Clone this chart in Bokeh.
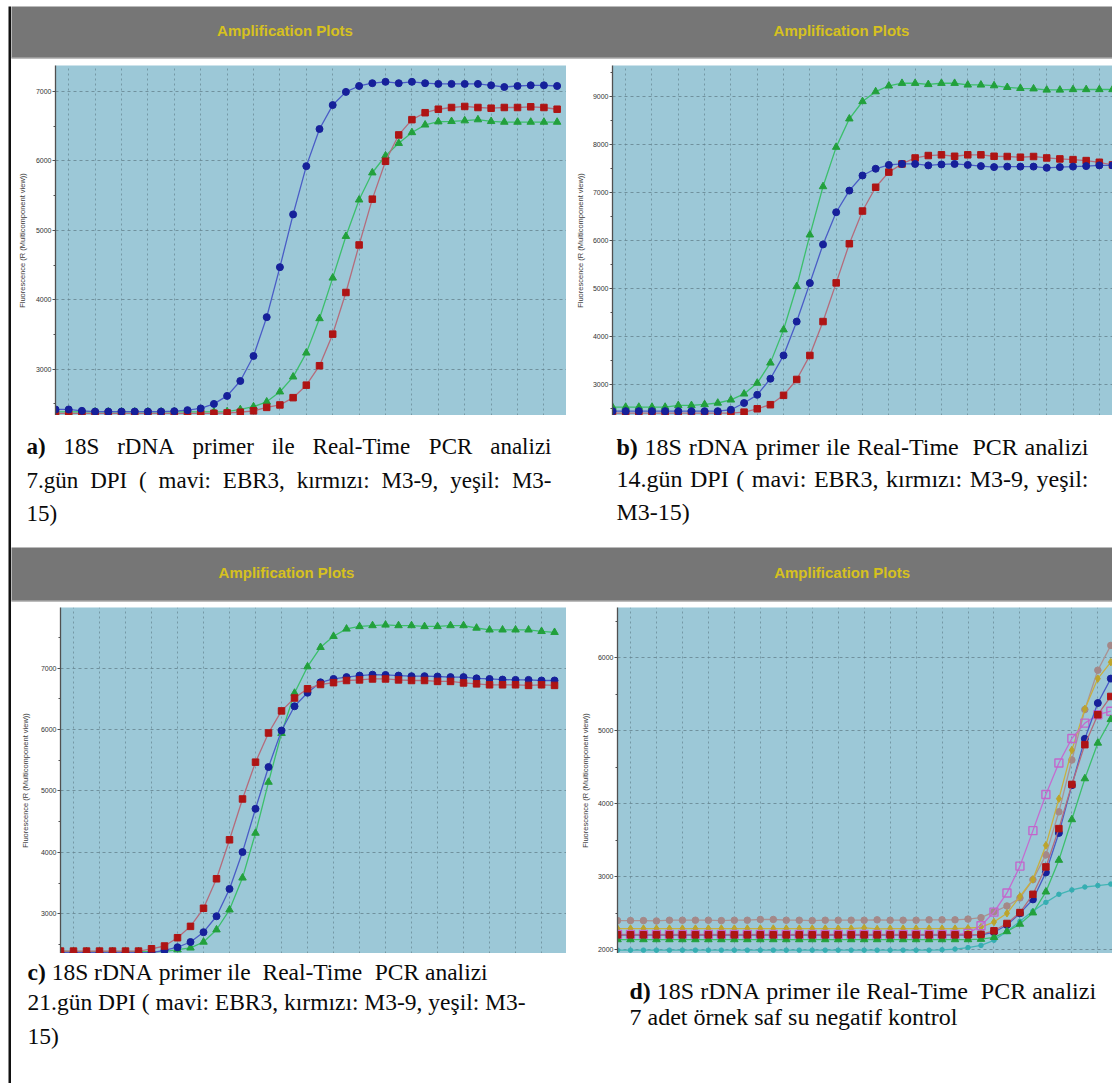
from bokeh.plotting import figure
from bokeh.models import ColumnDataSource, Range1d, FixedTicker, Grid, Label, Span
from bokeh.layouts import row, column
from bokeh.core.properties import value
from bokeh.embed import file_html
from bokeh.resources import INLINE

# ---------------- data ----------------
cycles = list(range(1, 40))

a_blue = [2420, 2420, 2400, 2390, 2390, 2390, 2390, 2390, 2390, 2395,
          2410, 2435, 2500, 2615, 2830, 3190, 3750, 4470, 5230, 5925,
          6460, 6805, 6995, 7080, 7120, 7140, 7120, 7140, 7120, 7110,
          7110, 7110, 7110, 7090, 7065, 7080, 7090, 7090, 7080]
a_red = [2365, 2365, 2365, 2365, 2365, 2365, 2365, 2365, 2365, 2365,
         2365, 2365, 2365, 2370, 2380, 2400, 2450, 2485, 2590, 2770,
         3050, 3505, 4105, 4790, 5450, 5995, 6375, 6595, 6695, 6745,
         6770, 6785, 6770, 6760, 6770, 6770, 6780, 6770, 6745]
a_green = [2385, 2385, 2385, 2385, 2385, 2385, 2385, 2385, 2385, 2385,
           2385, 2385, 2385, 2390, 2420, 2460, 2530, 2675, 2890, 3235,
           3730, 4315, 4915, 5440, 5830, 6075, 6255, 6410, 6520, 6565,
           6570, 6580, 6595, 6570, 6560, 6560, 6560, 6560, 6560]

b_blue = [2445, 2445, 2445, 2445, 2445, 2445, 2445, 2445, 2445, 2475,
          2615, 2785, 3120, 3605, 4310, 5110, 5915, 6585, 7035, 7350,
          7490, 7570, 7590, 7590, 7560, 7580, 7590, 7570, 7545, 7525,
          7535, 7535, 7535, 7510, 7525, 7535, 7545, 7560, 7560]
b_red = [2405, 2405, 2405, 2405, 2405, 2405, 2405, 2405, 2405, 2405,
         2425, 2495, 2580, 2775, 3105, 3605, 4310, 5115, 5930, 6610,
         7105, 7420, 7590, 7715, 7765, 7780, 7750, 7780, 7780, 7750,
         7745, 7730, 7745, 7715, 7695, 7680, 7660, 7625, 7570]
b_green = [2530, 2530, 2530, 2530, 2530, 2565, 2565, 2585, 2615, 2680,
           2805, 3030, 3450, 4140, 5040, 6115, 7120, 7940, 8530, 8890,
           9095, 9215, 9270, 9270, 9245, 9270, 9270, 9235, 9235, 9220,
           9185, 9165, 9155, 9130, 9130, 9140, 9140, 9140, 9140]

c_blue = [2365, 2365, 2365, 2365, 2365, 2365, 2365, 2365, 2405, 2455,
          2540, 2700, 2960, 3405, 4005, 4710, 5390, 5985, 6380, 6600,
          6770, 6825, 6855, 6880, 6895, 6890, 6880, 6870, 6870, 6865,
          6855, 6855, 6835, 6825, 6815, 6810, 6810, 6800, 6800]
c_red = [2392, 2392, 2392, 2392, 2392, 2392, 2392, 2430, 2475, 2610,
         2795, 3090, 3570, 4205, 4870, 5470, 5945, 6305, 6515, 6665,
         6735, 6765, 6800, 6810, 6825, 6825, 6810, 6800, 6800, 6785,
         6785, 6760, 6745, 6730, 6730, 6730, 6720, 6730, 6720]
c_green = [2392, 2385, 2385, 2385, 2385, 2385, 2385, 2385, 2385, 2415,
           2445, 2540, 2740, 3065, 3585, 4315, 5145, 5940, 6595, 7025,
           7340, 7520, 7640, 7680, 7695, 7705, 7695, 7695, 7680, 7680,
           7695, 7695, 7655, 7625, 7625, 7625, 7625, 7600, 7585]

d_gray = [2400, 2400, 2400, 2395, 2405, 2405, 2405, 2405, 2400, 2405,
          2405, 2415, 2415, 2405, 2405, 2400, 2405, 2405, 2405, 2405,
          2410, 2405, 2405, 2405, 2410, 2410, 2410, 2420, 2440, 2520,
          2600, 2710, 2960, 3300, 3890, 4600, 5290, 5830, 6170]
d_yellow = [2290, 2290, 2290, 2290, 2290, 2290, 2290, 2290, 2290, 2290,
            2290, 2290, 2290, 2290, 2290, 2290, 2290, 2290, 2290, 2300,
            2285, 2290, 2290, 2290, 2290, 2290, 2290, 2295, 2310, 2380,
            2500, 2730, 2965, 3430, 4070, 4735, 5300, 5715, 5940]
d_blue = [2200, 2200, 2200, 2200, 2200, 2200, 2200, 2200, 2200, 2200,
          2200, 2200, 2200, 2200, 2200, 2200, 2200, 2200, 2200, 2200,
          2200, 2200, 2200, 2200, 2200, 2200, 2200, 2200, 2205, 2240,
          2340, 2500, 2690, 3060, 3600, 4255, 4890, 5380, 5715]
d_red = [2205, 2205, 2205, 2205, 2205, 2205, 2205, 2205, 2205, 2205,
         2205, 2205, 2205, 2205, 2205, 2205, 2205, 2205, 2205, 2205,
         2205, 2205, 2205, 2205, 2205, 2205, 2205, 2205, 2210, 2260,
         2360, 2510, 2760, 3135, 3660, 4265, 4810, 5220, 5470]
d_magenta = [2210, 2210, 2210, 2210, 2210, 2210, 2210, 2210, 2210, 2210,
             2210, 2210, 2210, 2210, 2210, 2210, 2210, 2210, 2210, 2210,
             2210, 2210, 2210, 2210, 2210, 2210, 2210, 2225, 2330, 2516,
             2778, 3146, 3632, 4127, 4558, 4895, 5105, 5220, 5268]
d_green = [2140, 2140, 2140, 2140, 2140, 2140, 2140, 2140, 2140, 2140,
           2140, 2140, 2140, 2140, 2140, 2140, 2140, 2140, 2140, 2140,
           2140, 2140, 2140, 2140, 2140, 2140, 2140, 2140, 2145, 2170,
           2250, 2352, 2507, 2794, 3228, 3784, 4345, 4833, 5156]
d_teal = [1995, 1995, 1995, 1995, 1995, 1995, 1995, 1995, 1995, 1995,
          1995, 1995, 1995, 1995, 1995, 1995, 1995, 1995, 1995, 1995,
          1995, 1995, 1995, 1995, 1995, 2000, 2010, 2030, 2060, 2130,
          2250, 2390, 2530, 2650, 2760, 2820, 2860, 2880, 2900]

ticks_a = [3000, 4000, 5000, 6000, 7000]
minor_a = [2500, 3500, 4500, 5500, 6500]
ticks_b = [3000, 4000, 5000, 6000, 7000, 8000, 9000]
minor_b = [2500, 3500, 4500, 5500, 6500, 7500, 8500, 9500]
ticks_c = [3000, 4000, 5000, 6000, 7000]
minor_c = [2500, 3500, 4500, 5500, 6500, 7500]
ticks_d = [2000, 3000, 4000, 5000, 6000]
minor_d = [2500, 3500, 4500, 5500, 6500]

HEADER_TITLE = "Amplification Plots"
Y_LABEL = "Fluorescence (R (Multicomponent view))"

cap_a = ["a) 18S rDNA primer ile Real-Time PCR analizi",
         "7.gün DPI ( mavi: EBR3, kırmızı: M3-9, yeşil: M3-",
         "15)"]
cap_b = ["b) 18S rDNA primer ile Real-Time  PCR analizi",
         "14.gün DPI ( mavi: EBR3, kırmızı: M3-9, yeşil:",
         "M3-15)"]
cap_c = ["c) 18S rDNA primer ile  Real-Time  PCR analizi",
         "21.gün DPI ( mavi: EBR3, kırmızı: M3-9, yeşil: M3-",
         "15)"]
cap_d = ["d) 18S rDNA primer ile Real-Time  PCR analizi",
         "7 adet örnek saf su negatif kontrol"]

# ---------------- style ----------------
BG = "#9cc8d7"
HEAD_GRAY = "#767676"
TITLE_YELLOW = "#d6c11e"
GRID = "#65838f"

# Times / Liberation Serif advance widths (1/1000 em)
W_REG = {' ': 250, '(': 333, ')': 333, ',': 250, '-': 333, '.': 250, ':': 278,
         'A': 722, 'B': 667, 'C': 667, 'D': 722, 'E': 611, 'I': 333, 'M': 889,
         'N': 722, 'P': 556, 'R': 667, 'S': 556, 'T': 611,
         'a': 444, 'b': 500, 'c': 444, 'd': 500, 'e': 444, 'f': 333, 'g': 500,
         'i': 278, 'k': 500, 'l': 278, 'm': 778, 'n': 500, 'o': 500, 'p': 500,
         'r': 333, 's': 389, 't': 278, 'u': 500, 'v': 500, 'y': 500, 'z': 444,
         'ü': 500, 'ö': 500, 'ı': 278, 'ş': 389}
W_BOLD = {'a': 500, 'b': 556, 'c': 444, 'd': 556, ')': 333}


def text_w(s, size, bold=False):
    tot = 0
    for ch in s:
        if bold and ch in W_BOLD:
            tot += W_BOLD[ch]
        elif ch.isdigit():
            tot += 500
        else:
            tot += W_REG.get(ch, 500)
    return tot * size / 1000.0


def base_fig(width, height, **kw):
    opts = dict(width=width, height=height, output_backend="svg",
                toolbar_location=None, title=None, outline_line_color=None,
                frame_align=False)
    opts.update(kw)
    return figure(**opts)


def solid(width, height, color):
    return base_fig(width, height, x_range=Range1d(0, 1), y_range=Range1d(0, 1),
                    x_axis_type=None, y_axis_type=None, min_border=0,
                    background_fill_color=color, border_fill_color=color)


def make_header(width, height, band, centers, ty):
    h = base_fig(width, height, x_range=Range1d(0, width), y_range=Range1d(band, 0),
                 x_axis_type=None, y_axis_type=None,
                 min_border_left=0, min_border_right=0, min_border_top=0,
                 min_border_bottom=height - band,
                 background_fill_color=HEAD_GRAY, border_fill_color="white")
    h.add_layout(Span(location=band, dimension="width", line_color="#bdbdbd", line_width=2))
    for tx in centers:
        h.add_layout(Label(x=tx, y=ty, text=HEADER_TITLE, text_align="center",
                           text_baseline="middle", text_font="Liberation Sans",
                           text_font_style="bold", text_font_size="15px",
                           text_color=TITLE_YELLOW))
    return h


def make_plot(width, height, left, xr, yr, majors, minors, lab_standoff):
    p = base_fig(width, height, x_range=Range1d(*xr), y_range=Range1d(*yr),
                 x_axis_type=None, min_border_left=left, min_border_right=0,
                 min_border_top=0, min_border_bottom=0,
                 background_fill_color=BG, border_fill_color="white")
    ax = p.yaxis[0]
    ax.ticker = FixedTicker(ticks=majors, minor_ticks=minors)
    ax.axis_label = Y_LABEL
    ax.axis_label_text_font = "Liberation Sans"
    ax.axis_label_text_font_size = "7.5px"
    ax.axis_label_text_font_style = "normal"
    ax.axis_label_text_color = "#3c3c3c"
    ax.axis_label_standoff = lab_standoff
    ax.major_label_text_font = "Liberation Sans"
    ax.major_label_text_font_size = "7px"
    ax.major_label_text_color = "#333333"
    ax.major_label_standoff = 1
    ax.axis_line_color = "#505050"
    ax.axis_line_width = 1.3
    ax.major_tick_out = 3
    ax.major_tick_in = 0
    ax.minor_tick_out = 2
    ax.minor_tick_in = 0
    ax.major_tick_line_color = "#505050"
    ax.minor_tick_line_color = "#505050"
    p.ygrid.grid_line_color = GRID
    p.ygrid.grid_line_dash = "3 3"
    p.ygrid.grid_line_alpha = 0.8
    p.add_layout(Grid(dimension=0, ticker=FixedTicker(ticks=list(range(2, 42, 2))),
                      grid_line_color=GRID, grid_line_dash="2 3", grid_line_alpha=0.7))
    return p


def series(p, src, col, lcolor, marker, mcolor, size, filled=True):
    p.line("cycle", col, source=src, line_color=lcolor, line_width=1.3)
    p.scatter("cycle", col, source=src, marker=marker, size=size,
              fill_color=mcolor if filled else None, line_color=mcolor,
              line_width=1.0 if filled else 1.4)


def make_caption(width, height, lines, x0, baselines, size, justify=None):
    c = base_fig(width, height, x_range=Range1d(0, width), y_range=Range1d(height, 0),
                 x_axis_type=None, y_axis_type=None, min_border=0,
                 background_fill_color="white", border_fill_color="white")
    rx, ry, rt, bx, by, bt = [], [], [], [], [], []
    space = W_REG[' '] * size / 1000.0
    for li, (line, yb) in enumerate(zip(lines, baselines)):
        words, extra, pending = [], [], 0
        for tok in line.split(" "):
            if tok == "":
                pending += 1
                continue
            words.append(tok)
            extra.append(pending)
            pending = 0
        bolds = [li == 0 and wi == 0 for wi in range(len(words))]
        widths = [text_w(w, size, b) for w, b in zip(words, bolds)]
        target = justify[li] if justify else None
        if target and len(words) > 1:
            gap = (target - sum(widths) - sum(extra) * space) / (len(words) - 1)
        else:
            gap = space
        x = x0
        for wi, (w, b, wd) in enumerate(zip(words, bolds, widths)):
            if wi > 0:
                x += gap + extra[wi] * space
            if b:
                bx.append(x); by.append(yb); bt.append(w)
            else:
                rx.append(x); ry.append(yb); rt.append(w)
            x += wd
    common = dict(text_font=value("Liberation Serif"), text_font_size=value(f"{size}px"),
                  text_color="#0a0a0a", text_baseline="alphabetic", text_align="left")
    c.text(x=rx, y=ry, text=rt, **common)
    if bt:
        c.text(x=bx, y=by, text=bt, text_font_style="bold", **common)
    return c


# ---------------- panels ----------------
srcA = ColumnDataSource(dict(cycle=cycles, blue=a_blue, red=a_red, green=a_green))
srcB = ColumnDataSource(dict(cycle=cycles, blue=b_blue, red=b_red, green=b_green))
srcC = ColumnDataSource(dict(cycle=cycles, blue=c_blue, red=c_red, green=c_green))
srcD = ColumnDataSource(dict(cycle=cycles, gray=d_gray, yellow=d_yellow, blue=d_blue,
                             red=d_red, magenta=d_magenta, green=d_green, teal=d_teal))

BL, BM = "#4a5cc6", "#16209a"
RL, RM = "#b46c7c", "#ae1414"
GL, GM = "#3cbf6c", "#22a03c"

pA = make_plot(555, 350, 44, (1, 39.71), (2333, 7375), ticks_a, minor_a, 6)
for col, lc, mk, mc, sz in [("green", GL, "triangle", GM, 7.5), ("red", RL, "square", RM, 6.5),
                            ("blue", BL, "circle", BM, 7)]:
    series(pA, srcA, col, lc, mk, mc, sz)

pB = make_plot(546, 350, 46, (1, 39.0), (2355, 9639), ticks_b, minor_b, 5)
for col, lc, mk, mc, sz in [("green", GL, "triangle", GM, 7.5), ("red", RL, "square", RM, 6.5),
                            ("blue", BL, "circle", BM, 7)]:
    series(pB, srcB, col, lc, mk, mc, sz)

pC = make_plot(555, 346, 49, (1, 39.92), (2353, 7989), ticks_c, minor_c, 8)
for col, lc, mk, mc, sz in [("green", GL, "triangle", GM, 7.5), ("blue", BL, "circle", BM, 7),
                            ("red", RL, "square", RM, 6.5)]:
    series(pC, srcC, col, lc, mk, mc, sz)

pD = make_plot(546, 346, 51, (1, 39.13), (1949, 6689), ticks_d, minor_d, 5)
series(pD, srcD, "teal", "#42b5b5", "circle", "#35aeb2", 4.5)
series(pD, srcD, "gray", "#ab9393", "circle", "#a48888", 6.5)
series(pD, srcD, "yellow", "#c8b040", "diamond", "#bca42c", 7.5)
series(pD, srcD, "magenta", "#c46cd0", "square", "#c266cc", 8, filled=False)
series(pD, srcD, "blue", BL, "circle", BM, 7)
series(pD, srcD, "green", GL, "triangle", GM, 7.5)
series(pD, srcD, "red", RL, "square", RM, 6.5)

head1 = make_header(1101, 59, 52, [273.5, 830], 24)
head2 = make_header(1101, 60, 54, [275, 830.6], 25)

capA = make_caption(555, 132, cap_a, 15, [30.5, 65, 97.5], 23, justify=[525, 525, None])
capB = make_caption(546, 132, cap_b, 50, [31.7, 63.3, 96], 24, justify=[472, 472, None])
capC = make_caption(555, 130, cap_c, 16, [18.7, 48.7, 82], 23.5)
capD = make_caption(546, 130, cap_d, 63, [37, 63.7], 24)

main = column(head1, row(pA, pB), row(capA, capB),
              head2, row(pC, pD), row(capC, capD))
frame_block = column(solid(1104, 2, "#111111"),
                     row(solid(3, 1077, "#111111"), main),
                     solid(1104, 2, "#4d4d4d"))
layout = column(solid(1112, 3, "#23407e"),
                solid(1112, 1, "white"),
                row(solid(8, 1081, "white"), frame_block))

open("out.html", "w").write(file_html(layout, INLINE))
